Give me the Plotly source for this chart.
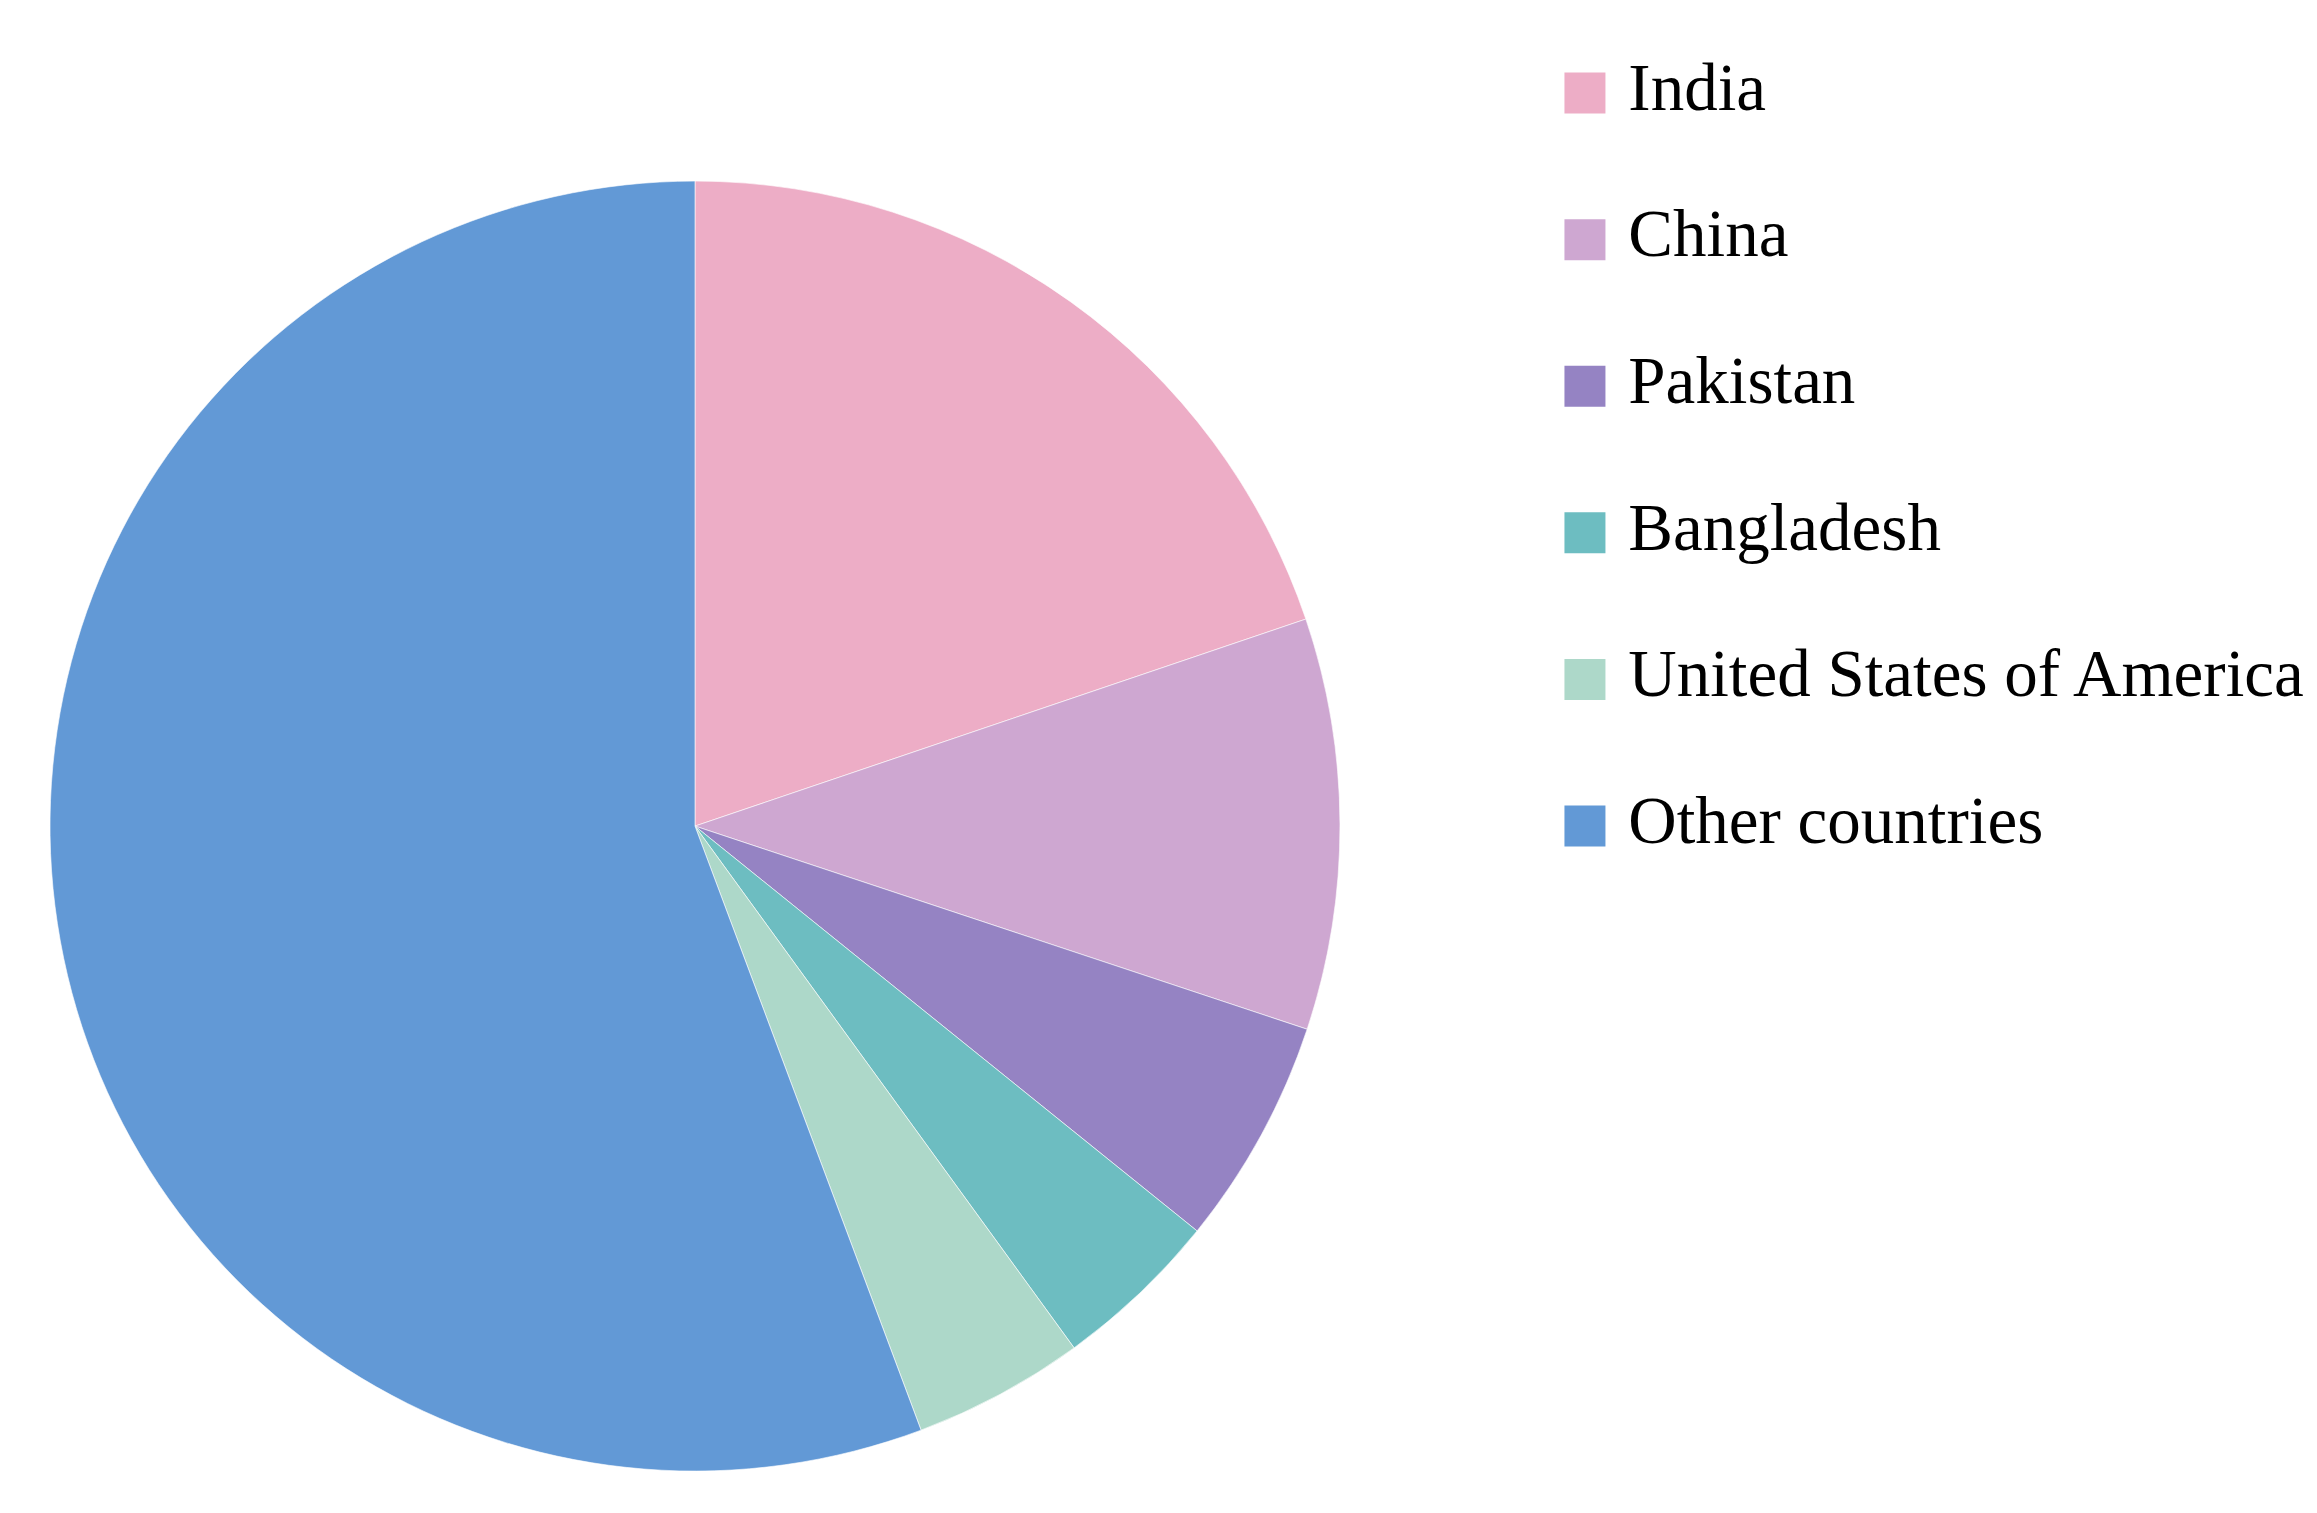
import plotly.graph_objects as go

countries = ['India', 'China', 'Pakistan', 'Bangladesh',
             'United States of America', 'Other countries']
shares = [19.8, 10.3, 5.7, 4.2, 4.3, 55.7]
colors = ['#EDADC6', '#CEA7D1', '#9583C3', '#6DBDC1', '#ADD8C9', '#6299D6']
legend_rows = list(range(len(countries)))

fig = go.Figure()

fig.add_trace(go.Pie(
    labels=countries,
    values=shares,
    sort=False,
    direction='clockwise',
    rotation=0,
    textinfo='none',
    hoverinfo='label+percent',
    marker=dict(colors=colors, line=dict(color='rgba(255,255,255,0.6)', width=1)),
    domain=dict(x=[0.0181, 0.5749], y=[0.0330, 0.8856]),
    showlegend=False
))

# legend drawn as a scatter on hidden axes so the swatches can be large
fig.add_trace(go.Scatter(
    x=[0] * len(countries),
    y=legend_rows,
    mode='markers+text',
    marker=dict(symbol='square', size=41, color=colors),
    text=[' ' + c for c in countries],
    textposition='middle right',
    textfont=dict(family='Liberation Serif', size=67, color='#000000'),
    cliponaxis=False,
    hoverinfo='skip',
    showlegend=False
))

fig.update_layout(
    width=2317,
    height=1513,
    margin=dict(l=0, r=0, t=0, b=0),
    paper_bgcolor='white',
    plot_bgcolor='white',
    xaxis=dict(domain=[0.6806, 1], range=[0, 1], visible=False, fixedrange=True),
    yaxis=dict(domain=[0, 1], range=[9.74, -0.58], visible=False, fixedrange=True),
)

fig.write_html("out.html")
